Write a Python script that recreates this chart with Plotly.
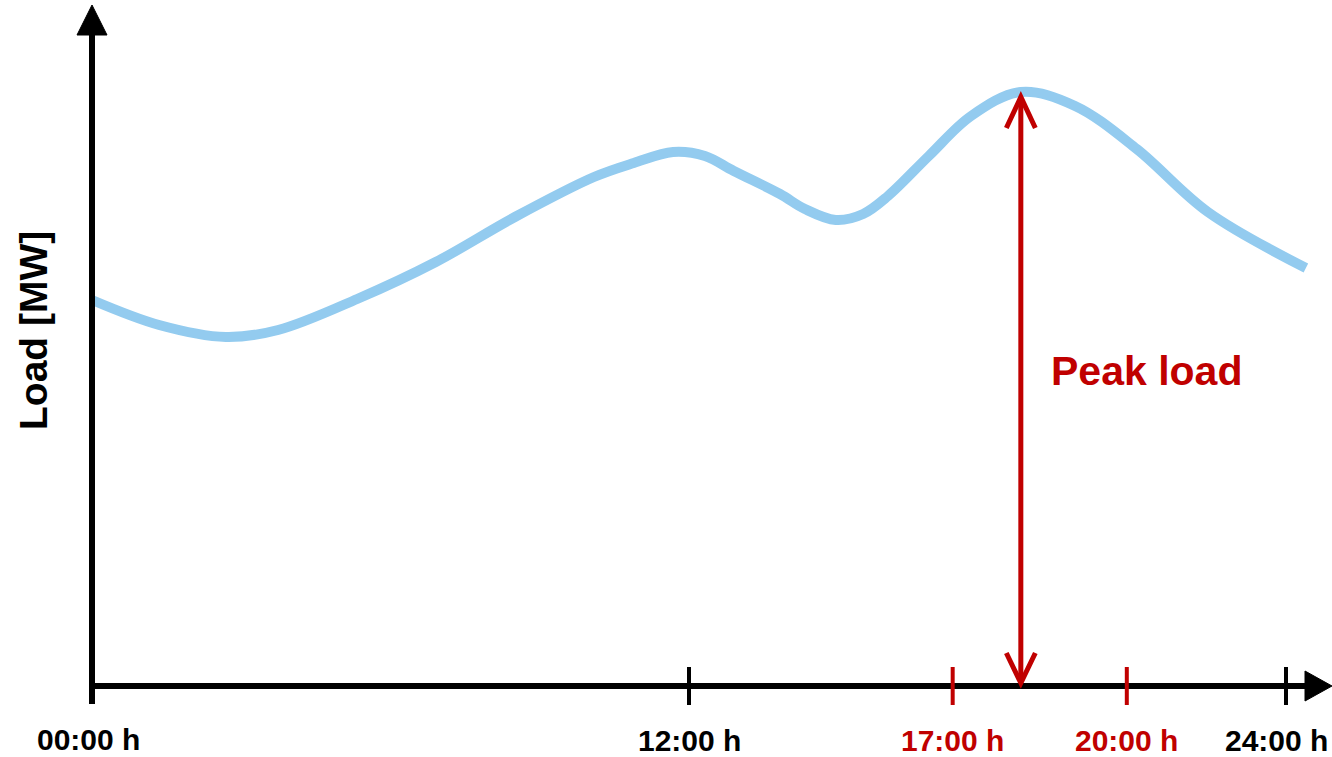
import plotly.graph_objects as go

# ---- data ----
hours = [0.0, 1.35, 2.69, 3.74, 5.33, 6.91, 8.50, 10.09, 10.89, 11.68, 12.32, 12.90,
         13.83, 14.33, 14.95, 15.50, 16.00, 16.82, 17.67, 18.67, 19.76, 21.00, 22.43, 24.40]
load = [386, 361, 349, 356, 387, 424, 469, 509, 523, 534, 530, 515,
        492, 477, 466, 472, 490, 530, 570, 594, 580, 537, 474, 418]

tick_hours = [0, 12, 17.3, 20.8, 24]
tick_labels = ["00:00 h", "12:00 h", "17:00 h", "20:00 h", "24:00 h"]
tick_is_red = [False, False, True, True, False]

peak_label = "Peak load"
y_title = "Load [MW]"

# ---- layout constants ----
W, H = 1332, 757
PXH = 49.75            # pixels per hour
X0 = 92                # pixel of 00:00
Y0 = 71                # pixels below baseline
x_range = [-X0 / PXH, (W - X0) / PXH]
y_range = [-Y0, H - Y0]   # 1 unit = 1 px vertically

def hx(px):  # pixel length -> hours
    return px / PXH

RED = "#C00000"
BLUE = "#93CBEF"
BLACK = "#000000"
FONT = "Liberation Sans, Arial, sans-serif"

fig = go.Figure()
fig.add_trace(go.Scatter(
    x=hours, y=load, mode="lines",
    line=dict(color=BLUE, width=10, shape="spline", smoothing=1.0),
    hoverinfo="skip", showlegend=False))

shapes = []
# y axis shaft + arrowhead
shapes.append(dict(type="line", xref="x", yref="y", x0=0, x1=0, y0=-18, y1=655,
                   line=dict(color=BLACK, width=6)))
shapes.append(dict(type="path", xref="x", yref="y",
                   path=f"M {-hx(15)},651 L {hx(15)},651 L 0,681 Z",
                   fillcolor=BLACK, line=dict(color=BLACK, width=1)))
# x axis shaft + arrowhead
x_tip = hx(W - X0)
x_base = hx(1305 - X0)
shapes.append(dict(type="line", xref="x", yref="y", x0=0, x1=x_base + hx(2), y0=0, y1=0,
                   line=dict(color=BLACK, width=6)))
shapes.append(dict(type="path", xref="x", yref="y",
                   path=f"M {x_base},15 L {x_base},-15 L {x_tip},0 Z",
                   fillcolor=BLACK, line=dict(color=BLACK, width=1)))
# ticks
for th, red in zip(tick_hours[1:], tick_is_red[1:]):
    shapes.append(dict(type="line", xref="x", yref="y", x0=th, x1=th, y0=-19, y1=19,
                       line=dict(color=RED if red else BLACK, width=4)))

# peak arrow
pk = load.index(max(load))
px_h = hours[pk]
top = load[pk] - 5
bot = 3
shapes.append(dict(type="line", xref="x", yref="y", x0=px_h, x1=px_h, y0=bot + 2, y1=top - 2,
                   line=dict(color=RED, width=5)))
shapes.append(dict(type="path", xref="x", yref="y",
                   path=f"M {px_h - hx(14.5)},{top - 31} L {px_h},{top} L {px_h + hx(14.5)},{top - 31}",
                   line=dict(color=RED, width=5)))
shapes.append(dict(type="path", xref="x", yref="y",
                   path=f"M {px_h - hx(14.5)},{bot + 30} L {px_h},{bot} L {px_h + hx(14.5)},{bot + 30}",
                   line=dict(color=RED, width=5)))

annotations = []
label_dx = [hx(-4), 0, 0, 0, hx(-10)]
label_dy = [-53, -54, -54, -54, -54]
for th, lab, red, dx, dy in zip(tick_hours, tick_labels, tick_is_red, label_dx, label_dy):
    annotations.append(dict(x=th + dx, y=dy, xref="x", yref="y", text=lab, showarrow=False,
                            xanchor="center", yanchor="middle",
                            font=dict(family=FONT, size=30, color=RED if red else BLACK, weight="bold")))
annotations.append(dict(x=hx(1146 - X0), y=315, xref="x", yref="y", text=peak_label,
                        showarrow=False, xanchor="center", yanchor="middle",
                        font=dict(family=FONT, size=41, color=RED, weight="bold")))
annotations.append(dict(x=hx(33 - X0), y=355, xref="x", yref="y", text=y_title,
                        showarrow=False, textangle=-90, xanchor="center", yanchor="middle",
                        font=dict(family=FONT, size=39, color=BLACK, weight="bold")))

fig.update_layout(
    width=W, height=H,
    margin=dict(l=0, r=0, t=0, b=0),
    paper_bgcolor="white", plot_bgcolor="white",
    xaxis=dict(range=x_range, visible=False, fixedrange=True),
    yaxis=dict(range=y_range, visible=False, fixedrange=True),
    shapes=shapes, annotations=annotations,
    showlegend=False,
)

fig.write_html(
    "out.html",
    config={"displayModeBar": False},
    post_script="document.body.style.margin='0';document.body.style.overflow='hidden';",
)
